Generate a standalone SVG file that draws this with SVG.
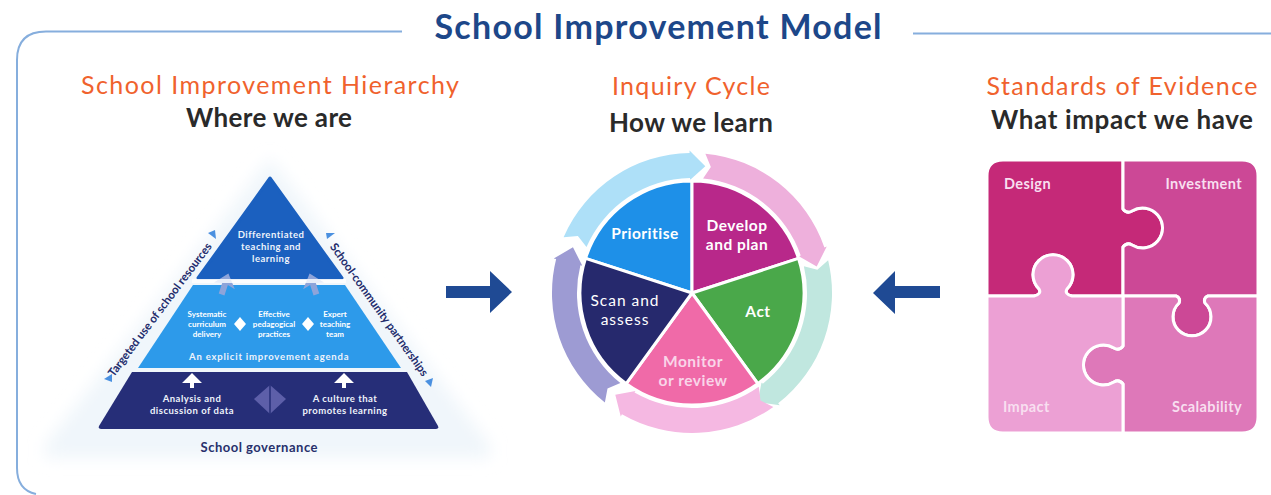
<svg xmlns="http://www.w3.org/2000/svg" width="1271" height="495" viewBox="0 0 1271 495">
<defs>
<style>
text{font-family:"Lato","Noto Sans","Liberation Sans",sans-serif}
.c{text-anchor:middle}
.h1{font-size:34px;font-weight:700;fill:#1d4789}
.h2{font-size:25px;font-weight:400;fill:#f0622d}
.h3{font-size:26px;font-weight:700;fill:#2a2a2a}
.pie{font-size:15.500px;font-weight:700;fill:#fff;text-anchor:middle;letter-spacing:.5px}
.pz{font-size:14.500px;font-weight:700;fill:#f8dff0;letter-spacing:.4px}
.t8{font-size:8px;font-weight:700;fill:#fff;text-anchor:middle}
.t10{font-size:9.500px;font-weight:700;fill:#eef3fb;text-anchor:middle;letter-spacing:.5px}
.side{font-size:11.500px;font-weight:700;fill:#232c6c;text-anchor:middle}
.w{stroke:#fff;stroke-width:3;stroke-linejoin:round}
.big{fill:#1f4a94}
.tri{fill:#4a90e0}
</style>
<filter id="soft" x="-10%" y="-10%" width="120%" height="120%"><feGaussianBlur stdDeviation="8"/></filter>
<path id="ringArrow" d="M-128.400,-55.800A140,140 0 0 1 -2.400,-140L-2.500,-142.500L13.300,-126.800L-2,-113L-2,-115A115,115 0 0 0 -105.500,-45.900L-114.100,-56.900Z"/>
<path id="upArrow" d="M0,-11L11,2L3,0L3,11L-3,11L-3,0L-11,2Z"/>
<path id="roof" d="M0,-7L10,3H2V8H-2V3H-10Z"/>
</defs>
<rect width="1271" height="495" fill="#fff"/>
<g id="frame" fill="none" stroke="#86aedd" stroke-width="2">
<path d="M402,31.500H46Q17,31.500 17,60V468Q17,490 36,494"/>
<path d="M913,33.500H1271"/>
</g>
<g id="title">
<text class="h1 c" x="658" y="39" textLength="447">School Improvement Model</text>
</g>
<g id="hierarchy">
<text class="h2 c" x="270" y="94" textLength="378">School Improvement Hierarchy</text>
<text class="h3 c" x="269" y="127" textLength="166">Where we are</text>
<polygon points="270,158 490,445 490,458 45,458 45,445" fill="#f0f6fb" filter="url(#soft)"/>
<g stroke-linejoin="round">
<path d="M270,178L342,278H198Z" fill="#1b60bf" stroke="#1b60bf" stroke-width="3"/>
<path d="M193,285H345L401,368H138Z" fill="#2d9aea"/>
<path d="M132,372H407L438,426Q439,429 436,429H101Q98,429 99,426Z" fill="#262e78"/>
</g>
<g fill="#8ea4da">
<use href="#upArrow" transform="translate(225,284) rotate(18)"/>
<use href="#upArrow" transform="translate(313,284) rotate(-18)"/>
</g>
<rect x="192" y="279" width="154" height="4" fill="#fff" opacity=".8"/>
<g fill="#fff">
<use href="#roof" transform="translate(192,380)"/>
<use href="#roof" transform="translate(344,380)"/>
<polygon points="240,317 246,324 240,331 234,324"/>
<polygon points="308,317 314,324 308,331 302,324"/>
</g>
<polygon points="270,385 286,399 270,414 254,399" fill="#5d5fa9"/>
<line x1="270" y1="385" x2="270" y2="414" stroke="#262e78" stroke-width="1.500"/>
<text class="t10" x="271" y="238">Differentiated</text>
<text class="t10" x="271" y="250">teaching and</text>
<text class="t10" x="271" y="262">learning</text>
<text class="t8" x="207" y="317">Systematic</text>
<text class="t8" x="207" y="327">curriculum</text>
<text class="t8" x="207" y="337">delivery</text>
<text class="t8" x="274" y="317">Effective</text>
<text class="t8" x="274" y="327">pedagogical</text>
<text class="t8" x="274" y="337">practices</text>
<text class="t8" x="335" y="317">Expert</text>
<text class="t8" x="335" y="327">teaching</text>
<text class="t8" x="335" y="337">team</text>
<text class="t10" x="269" y="360" textLength="160">An explicit improvement agenda</text>
<text class="t10" x="192" y="402">Analysis and</text>
<text class="t10" x="192" y="413.500">discussion of data</text>
<text class="t10" x="345" y="402">A culture that</text>
<text class="t10" x="345" y="413.500">promotes learning</text>
<text class="side" transform="translate(163,312) rotate(-53)" textLength="164">Targeted use of school resources</text>
<text class="side" transform="translate(376,312) rotate(54.500)" textLength="160">School-community partnerships</text>
<text x="259" y="452" class="c" font-size="13" font-weight="700" fill="#27306b" textLength="117">School governance</text>
<polygon class="tri" points="104,379 112,374 112,382"/>
<polygon class="tri" points="215,230 216,239 208,233"/>
<polygon class="tri" points="326,233 335,233 327,239"/>
<polygon class="tri" points="433,378 431,387 425,381"/>
</g>
<g id="inquiry-cycle">
<text class="h2 c" x="691" y="95" textLength="158">Inquiry Cycle</text>
<text class="h3 c" x="691" y="132" textLength="164">How we learn</text>
<g transform="translate(692,293)">
<use href="#ringArrow" fill="#aee0f8"/>
<use href="#ringArrow" fill="#eeb0dc" transform="rotate(72)"/>
<use href="#ringArrow" fill="#c0e7df" transform="rotate(143)"/>
<use href="#ringArrow" fill="#f5b8e2" transform="rotate(211)"/>
<use href="#ringArrow" fill="#9d9bd3" transform="rotate(285)"/>
</g>
<path class="w" d="M692,293V181A112,112 0 0 0 585.500,258.400Z" fill="#1e90e8"/>
<path class="w" d="M692,293V181A112,112 0 0 1 798.500,258.400Z" fill="#b8288a"/>
<path class="w" d="M692,293L798.500,258.400A112,112 0 0 1 757.800,383.600Z" fill="#4aa84a"/>
<path class="w" d="M692,293L757.800,383.600A112,112 0 0 1 626.200,383.600Z" fill="#f06aa8"/>
<path class="w" d="M692,293L626.200,383.600A112,112 0 0 1 585.500,258.400Z" fill="#26296d"/>
<text class="pie" x="645" y="239">Prioritise</text>
<text class="pie" x="737" y="231">Develop</text>
<text class="pie" x="737" y="250">and plan</text>
<text class="pie" x="758" y="317">Act</text>
<text class="pie" x="693" y="367" style="fill:#f9d5e8">Monitor</text>
<text class="pie" x="693" y="386" style="fill:#f9d5e8">or review</text>
<text class="pie" x="625" y="306" style="font-weight:400;letter-spacing:1px">Scan and</text>
<text class="pie" x="625" y="325" style="font-weight:400;letter-spacing:1px">assess</text>
</g>
<g id="standards">
<text class="h2 c" x="1122" y="95" textLength="271">Standards of Evidence</text>
<text class="h3 c" x="1122" y="129" textLength="262">What impact we have</text>
<path class="w" fill="#c52978" d="M1003,160H1123V209Q1127,214 1132,211A20,20 0 1 1 1132,245Q1127,242 1123,247V296H1072Q1064,294 1067,289A20,20 0 1 0 1039,289Q1042,294 1034,296H987V176Q987,160 1003,160Z"/>
<path class="w" fill="#cc4896" d="M1123,160H1242Q1258,160 1258,176V296H1208Q1203,298 1205,303A19,19 0 1 1 1179,303Q1181,298 1176,296H1123V247Q1127,242 1132,245A20,20 0 1 0 1132,211Q1127,214 1123,209Z"/>
<path class="w" fill="#de78b9" d="M1123,296H1176Q1181,298 1179,303A19,19 0 1 0 1205,303Q1203,298 1208,296H1258V417Q1258,433 1242,433H1123V384Q1119,379 1114,382A20,20 0 1 1 1114,348Q1119,351 1123,346Z"/>
<path class="w" fill="#eca0d4" d="M987,296H1034Q1042,294 1039,289A20,20 0 1 1 1067,289Q1064,294 1072,296H1123V346Q1119,351 1114,348A20,20 0 1 0 1114,382Q1119,379 1123,384V433H1003Q987,433 987,417Z"/>
<text class="pz" x="1004" y="189">Design</text>
<text class="pz" x="1242" y="189" text-anchor="end">Investment</text>
<text class="pz" x="1003" y="412">Impact</text>
<text class="pz" x="1242" y="412" text-anchor="end">Scalability</text>
</g>
<g id="connectors">
<path class="big" d="M446,286H490V271L512,292L490,313V298H446Z"/>
<path class="big" d="M940,286H895V271L873,293L895,314V298H940Z"/>
</g>
</svg>
